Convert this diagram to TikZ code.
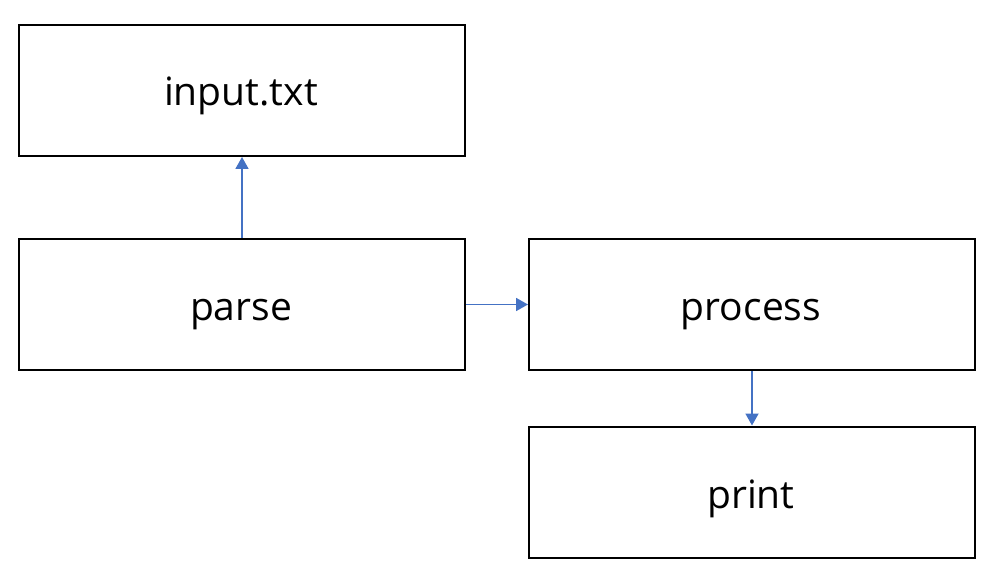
\documentclass[tikz,border=0pt]{standalone}
\usepackage{fontspec}
\setmainfont{Open Sans}
\usetikzlibrary{arrows.meta}
\definecolor{arrowblue}{HTML}{4472C4}
\tikzset{
  box/.style={draw=black, line width=2pt, fill=white, minimum width=446pt, minimum height=131pt, inner sep=0pt},
  lbl/.style={inner sep=0pt, font=\fontsize{39}{45}\selectfont, text height=27pt, text depth=9pt},
  conn/.style={draw=arrowblue, line width=1.8pt, -{Triangle[length=12pt,width=13pt]}}
}
\begin{document}
\begin{tikzpicture}[x=1pt,y=-1pt]
\useasboundingbox (0,0) rectangle (994,580);
\node[box] (input) at (242,90.5) {};
\node[box] (parse) at (242,304.5) {};
\node[box] (process) at (752,304.5) {};
\node[box] (print) at (752,492) {};
\node[lbl] (tinput) at (241,97) {input.txt};
\node[lbl] (tparse) at (241,311) {parse};
\node[lbl] (tprocess) at (751,311) {process};
\node[lbl] (tprint) at (751,499) {print};
\draw[conn] (parse.north) -- (input.south);
\draw[conn] (parse.east) -- (process.west);
\draw[conn] (process.south) -- (print.north);
\end{tikzpicture}
\end{document}
